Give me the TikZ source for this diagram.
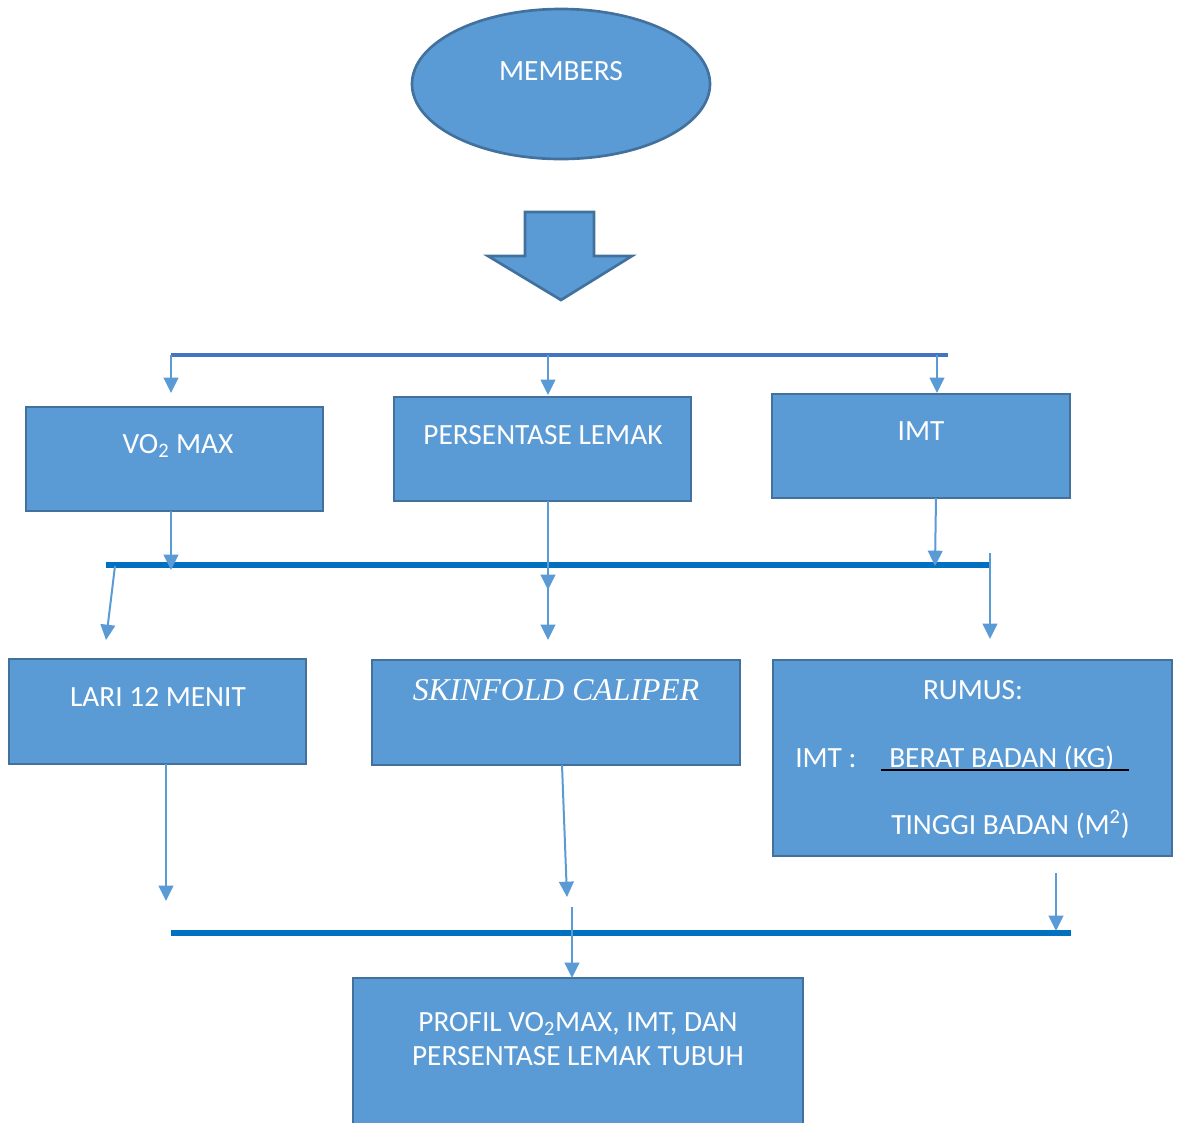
\documentclass[tikz,border=0pt]{standalone}
\usepackage{fontspec}
\setmainfont{Carlito}
\newfontfamily\tnr{Liberation Serif}
\usetikzlibrary{shapes.geometric,arrows.meta,fit}
\definecolor{fillb}{HTML}{5B9BD5}
\definecolor{edgeb}{HTML}{41719C}
\definecolor{topbar}{HTML}{4472C4}
\definecolor{midbar}{HTML}{0070C0}
\begin{document}
\begin{tikzpicture}[x=0.75pt,y=-0.75pt,
  box/.style={draw=edgeb, line width=2pt, fill=fillb, inner sep=0pt, outer sep=0pt},
  txt/.style={text=white, font=\fontsize{22}{26}\selectfont, inner sep=0pt, anchor=base},
  conn/.style={draw=fillb, line width=1.5pt, -{Triangle[length=11.5pt,width=11pt]}},
  topbarline/.style={draw=topbar, line width=2.8pt},
  midbarline/.style={draw=midbar, line width=4pt}]
\useasboundingbox (0,0) rectangle (1182,1122);
\clip (0,0) rectangle (1182,1122);

% ellipse
\node[ellipse, draw=edgeb, line width=2pt, fill=fillb, minimum width=223.5pt, minimum height=112.5pt, inner sep=0pt] (members) at (561,84) {};
\node[txt] (tmembers) at (561,80) {MEMBERS};

% block arrow
\draw[fill=fillb, draw=edgeb, line width=2pt, line join=miter]
  (525,212) -- (594,212) -- (594,256) -- (632,256) -- (561,300) -- (488,256) -- (525,256) -- cycle;

% boxes
\node[box, fit={(26,407) (323,511)}] (vo2) {};
\node[box, fit={(394,397) (691,501)}] (pers) {};
\node[box, fit={(772,394) (1070,498)}] (imt) {};
\node[box, fit={(9,659) (306,764)}] (lari) {};
\node[box, fit={(372,660) (740,765)}] (skin) {};
\node[box, fit={(773,660) (1172,856)}] (rumus) {};
\node[box, fit={(353,978) (803,1140)}] (prof) {};

% texts
\node[txt] (tvo2) at (178,453) {VO\textsubscript{2} MAX};
\node[txt] (tpers) at (543,444) {PERSENTASE LEMAK};
\node[txt] (timt) at (921,440) {IMT};
\node[txt] (tlari) at (158,706) {LARI 12 MENIT};
\node[txt, font=\tnr\itshape\fontsize{23.8}{28}\selectfont] (tskin) at (556,700) {SKINFOLD CALIPER};
\node[txt] (trumus) at (973,699) {RUMUS:};
\node[txt, anchor=base west] (timtf) at (795,767) {IMT :};
\node[txt, anchor=base west] (tberat) at (889,767) {BERAT BADAN (KG)};
\node[txt, anchor=base west] (ttinggi) at (891,834) {TINGGI BADAN (M\textsuperscript{2})};
\node[txt] (tprof1) at (578,1031) {PROFIL VO\textsubscript{2}MAX, IMT, DAN};
\node[txt] (tprof2) at (578,1065) {PERSENTASE LEMAK TUBUH};

% fraction line
\coordinate (ulw) at (881,770);
\coordinate (ule) at (1129,770);
\draw[black, line width=0.9pt] (ulw) -- (ule);

% bars
\coordinate (b1w) at (171,355);
\coordinate (b1e) at (948,355);
\coordinate (b2w) at (106,565);
\coordinate (b2e) at (990,565);
\coordinate (b3w) at (171,933);
\coordinate (b3e) at (1071,933);
\draw[topbarline] (b1w) -- (b1e);
\draw[midbarline] (b2w) -- (b2e);
\draw[midbarline] (b3w) -- (b3e);

% connector coordinates
\coordinate (a1s) at (171,355);  \coordinate (a1e) at (171,393);
\coordinate (a2s) at (548,355);  \coordinate (a2e) at (548,395);
\coordinate (a3s) at (937,355);  \coordinate (a3e) at (937,393);
\coordinate (a4e) at (171,570);
\coordinate (a5s) at (115,566);  \coordinate (a5e) at (106,640);
\coordinate (a6e) at (548,590);
\coordinate (a7s) at (548,586);  \coordinate (a7e) at (548,640);
\coordinate (a8e) at (935,566);
\coordinate (a9s) at (990,553);  \coordinate (a9e) at (990,639);
\coordinate (a10e) at (166,901);
\coordinate (a11e) at (567,897);
\coordinate (a12s) at (1056,873); \coordinate (a12e) at (1056,931);
\coordinate (a13s) at (572,907);

% connectors
\draw[conn] (a1s) -- (a1e);
\draw[conn] (a2s) -- (a2e);
\draw[conn] (a3s) -- (a3e);
\draw[conn] (vo2.south -| a4e) -- (a4e);
\draw[conn] (a5s) -- (a5e);
\draw[conn] (pers.south -| a6e) -- (a6e);
\draw[conn] (a7s) -- (a7e);
\draw[conn] (imt.south -| 936,0) -- (a8e);
\draw[conn] (a9s) -- (a9e);
\draw[conn] (lari.south -| a10e) -- (a10e);
\draw[conn] (skin.south -| 562,0) -- (a11e);
\draw[conn] (a12s) -- (a12e);
\draw[conn] (a13s) -- (prof.north -| a13s);
\end{tikzpicture}
\end{document}
